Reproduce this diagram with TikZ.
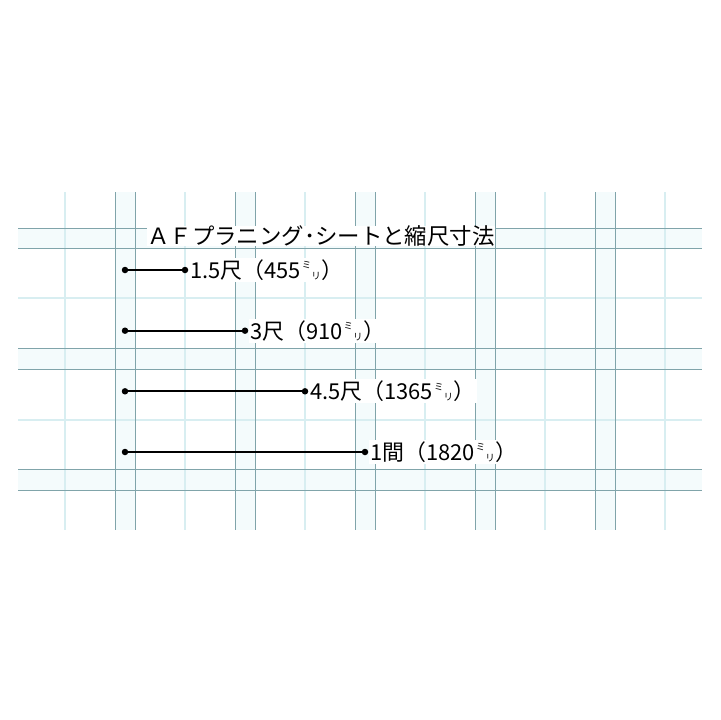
\documentclass[tikz,border=0pt]{standalone}
\usepackage{fontspec}
\newfontfamily\jp{Noto Sans CJK JP}
\definecolor{gridteal}{RGB}{128,164,170}
\definecolor{gridcyan}{RGB}{216,238,241}
\definecolor{bandcyan}{RGB}{244,251,252}
\newcommand{\miri}{\kern1bp{\fontsize{9.5}{9.5}\selectfont\raisebox{9.5bp}[0pt][0pt]{ミ}\raisebox{-1bp}[0pt][0pt]{リ}}\kern1bp}
\begin{document}
\begin{tikzpicture}[x=1bp,y=-1bp,
    pairline/.style={draw=gridteal,line width=0.9bp},
    faintline/.style={draw=gridcyan,line width=1.3bp},
    dot/.style={circle,fill=black,inner sep=0pt,minimum size=6.5bp},
    scaleline/.style={line width=2.3bp},
    scalelabel/.style={anchor=west,fill=white,inner sep=1.5bp,font=\jp\fontsize{22}{22}\selectfont}]
  \useasboundingbox (0,0) rectangle (720,720);
  % grid sheet
  \foreach \x in {115,235,355,475,595} \fill[bandcyan] (\x,192) rectangle (\x+20,530);
  \foreach \y/\yy in {228/248,348/369,469/490} \fill[bandcyan] (18,\y) rectangle (702,\yy);
  \foreach \x in {65,185,...,665} \draw[faintline] (\x,192) -- (\x,530);
  \foreach \y in {298,420} \draw[faintline] (18,\y) -- (702,\y);
  \foreach \x in {115,235,355,475,595} {
    \draw[pairline] (\x,192) -- (\x,530);
    \draw[pairline] (\x+20,192) -- (\x+20,530);
  }
  \foreach \y in {228,248,348,369,469,490} \draw[pairline] (18,\y) -- (702,\y);
  % title
  \node[scalelabel,inner sep=0pt,font=\jp\fontsize{22.5}{22.5}\selectfont] (title) at (147,236) {ＡＦプラニング･シートと縮尺寸法};
  % scale bars
  \node[dot] (s1) at (125,270) {};
  \node[dot] (e1) at (185,270) {};
  \draw[scaleline] (s1) -- (e1);
  \node[scalelabel] (l1) at (e1.east) {1.5尺（455\miri）};
  \node[dot] (s2) at (125,330.7) {};
  \node[dot] (e2) at (245,330.7) {};
  \draw[scaleline] (s2) -- (e2);
  \node[scalelabel] (l2) at (e2.east) {3尺（910\miri）};
  \node[dot] (s3) at (125,391.3) {};
  \node[dot] (e3) at (305,391.3) {};
  \draw[scaleline] (s3) -- (e3);
  \node[scalelabel] (l3) at (e3.east) {4.5尺（1365\miri）};
  \node[dot] (s4) at (125,452) {};
  \node[dot] (e4) at (365,452) {};
  \draw[scaleline] (s4) -- (e4);
  \node[scalelabel] (l4) at (e4.east) {1間（1820\miri）};
\end{tikzpicture}
\end{document}
